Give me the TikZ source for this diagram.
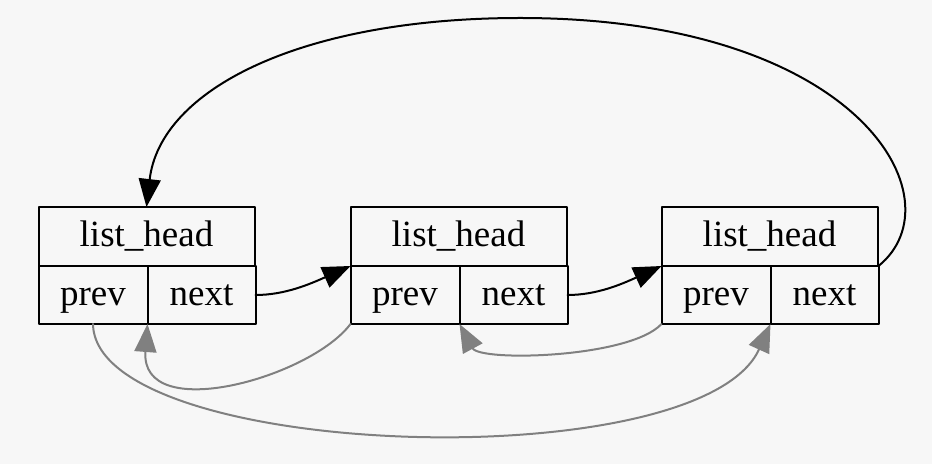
\documentclass[tikz,border=0pt]{standalone}
\usepackage{fontspec}
\setmainfont{Liberation Serif}
\usetikzlibrary{arrows.meta}
\definecolor{bgpaper}{HTML}{F7F7F7}
\definecolor{backedge}{HTML}{808080}
\tikzset{
  cell/.style={draw, line width=1pt, inner sep=0pt, outer sep=0pt,
    text height=14.6pt, text depth=4.3pt, font=\fontsize{18.5}{22}\selectfont},
  headcell/.style={cell, minimum width=108pt, minimum height=29.5pt},
  prevcell/.style={cell, minimum width=54.5pt, minimum height=29pt, anchor=north west},
  nextcell/.style={cell, minimum width=54pt, minimum height=29pt, anchor=north west},
  fwd/.style={line width=1pt, -{Triangle[length=14pt,width=11pt]}},
  bwd/.style={line width=1pt, backedge, -{Triangle[length=14pt,width=11pt]}}
}
\begin{document}
\begin{tikzpicture}[x=0.5pt, y=-0.5pt, line join=round, line cap=round]
  \fill[bgpaper] (0,0) rectangle (932,464);
  \useasboundingbox (0,0) rectangle (932,464);
  % the three records
  \foreach \i/\x in {1/146.5, 2/458.5, 3/769.5}{
    \node[headcell] (h\i) at (\x,236.5) {list\_head};
    \node[prevcell] (p\i) at (h\i.south west) {prev};
    \node[nextcell] (n\i) at (p\i.north east) {next};
  }
  % next pointers
  \draw[fwd] (n1.east) .. controls (285,295) and (310,284) .. (p2.north west);
  \draw[fwd] (n2.east) .. controls (597,295) and (622,284) .. (p3.north west);
  \draw[fwd] (n3.north east) .. controls (960,200) and (860,18) .. (520,18)
    .. controls (300,18) and (160,90) .. (h1.north);
  % prev pointers
  \draw[bwd] (p2.south west) .. controls (310,378) and (140,425) .. (p1.south east);
  \draw[bwd] (p3.south west) .. controls (630,358) and (480,362) .. (p2.south east);
  \draw[bwd] (p1.south) .. controls (95,460) and (700,480) .. (p3.south east);
\end{tikzpicture}
\end{document}
